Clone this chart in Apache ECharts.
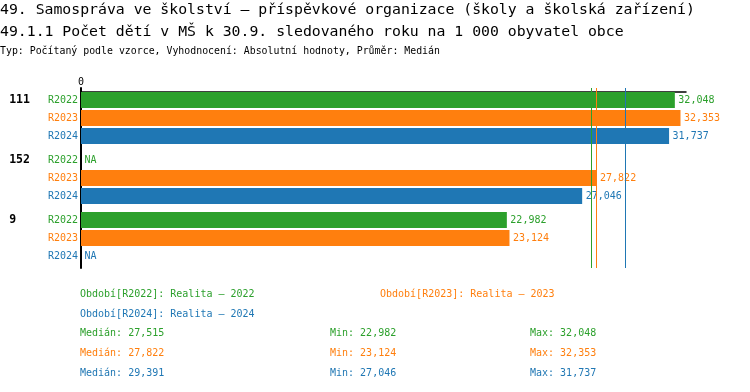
<!DOCTYPE html>
<html><head><meta charset="utf-8">
<script src="https://cdn.jsdelivr.net/npm/echarts@6/dist/echarts.min.js"></script>
<style>html,body{margin:0;padding:0;background:#fff}#c{width:750px;height:392px}</style>
</head><body><div id="c"></div>
<script>
const titleLine1 = '49. Samospráva ve školství – příspěvkové organizace (školy a školská zařízení)';
const titleLine2 = '49.1.1 Počet dětí v MŠ k 30.9. sledovaného roku na 1 000 obyvatel obce';
const subtitleText = 'Typ: Počítaný podle vzorce, Vyhodnocení: Absolutní hodnoty, Průměr: Medián';

const categories = ['111', '152', '9'];
const seriesNames = ['R2022', 'R2023', 'R2024'];
const r2022 = [32.048, null, 22.982];
const r2023 = [32.353, 27.822, 23.124];
const r2024 = [31.737, 27.046, null];
const medians = [27.515, 27.822, 29.391];
const mins = [22.982, 23.124, 27.046];
const maxs = [32.048, 32.353, 31.737];
const periodLabels = ['Období[R2022]: Realita – 2022', 'Období[R2023]: Realita – 2023', 'Období[R2024]: Realita – 2024'];
const colors = ['#2ca02c', '#ff7f0e', '#1f77b4'];

const FONT = '"DejaVu Sans Mono", "Liberation Mono", monospace';
const fmt = v => v.toFixed(3).replace('.', ',');
const seriesData = [r2022, r2023, r2024];

const titles = [
  {text: titleLine1, left: 0, top: 2, padding: 0, textStyle: {fontFamily: FONT, fontSize: 14.8, fontWeight: 'normal', color: '#000', lineHeight: 16}},
  {text: titleLine2, left: 0, top: 24, padding: 0, textStyle: {fontFamily: FONT, fontSize: 14.8, fontWeight: 'normal', color: '#000', lineHeight: 16}},
  {text: subtitleText, left: 0, top: 45, padding: 0, textStyle: {fontFamily: FONT, fontSize: 9.9, fontWeight: 'normal', color: '#000', lineHeight: 12}}
];
const periodPos = [[80, 294], [380, 294], [80, 314]];
periodLabels.forEach((t, i) => {
  titles.push({text: t, left: periodPos[i][0], top: periodPos[i][1] - 6, padding: 0,
    textStyle: {fontFamily: FONT, fontSize: 10, fontWeight: 'normal', color: colors[i], lineHeight: 12}});
});
const statRows = [333, 353, 373];
seriesNames.forEach((n, i) => {
  const y = statRows[i] - 6;
  const st = {fontFamily: FONT, fontSize: 10, fontWeight: 'normal', color: colors[i], lineHeight: 12};
  titles.push({text: 'Medián: ' + fmt(medians[i]), left: 80, top: y, padding: 0, textStyle: st});
  titles.push({text: 'Min: ' + fmt(mins[i]), left: 330, top: y, padding: 0, textStyle: st});
  titles.push({text: 'Max: ' + fmt(maxs[i]), left: 530, top: y, padding: 0, textStyle: st});
});

const rich = {
  n: {fontFamily: FONT, fontSize: 11.5, fontWeight: 'bold', color: '#000', width: 38.7, align: 'left', lineHeight: 18}
};
seriesNames.forEach((n, i) => {
  rich['s' + i] = {fontFamily: FONT, fontSize: 10, color: colors[i], align: 'right', lineHeight: 18};
});

const series = seriesNames.map((name, i) => ({
  name: name,
  type: 'bar',
  barWidth: 16,
  barGap: '12.5%',
  itemStyle: {color: colors[i]},
  data: seriesData[i].map(v => v === null ? {value: 0, na: true} : v),
  label: {
    show: true, position: 'right', distance: 3.5,
    fontFamily: FONT, fontSize: 10, color: colors[i],
    formatter: p => (p.data && p.data.na) ? 'NA' : fmt(p.value)
  },
  markLine: {
    silent: true, symbol: ['none', 'none'], animation: false,
    label: {show: false},
    lineStyle: {color: colors[i], width: 1, type: 'solid'},
    emphasis: {disabled: true},
    data: [{xAxis: medians[i]}]
  }
}));

const chart = echarts.init(document.getElementById('c'), null, {renderer: 'canvas'});
chart.setOption({
  animation: false,
  backgroundColor: '#fff',
  title: titles,
  grid: {left: 81, top: 88, width: 605, height: 180, containLabel: false},
  xAxis: {
    type: 'value', position: 'top', min: 0, max: 32.65, offset: -4,
    axisLine: {show: true, lineStyle: {color: '#000', width: 1.5}},
    axisTick: {show: false}, splitLine: {show: false},
    axisLabel: {show: true, margin: 5, showMaxLabel: false, fontFamily: FONT, fontSize: 10, color: '#000',
      formatter: v => v === 0 ? '0' : ''}
  },
  yAxis: {
    type: 'category', data: categories, inverse: true,
    axisLine: {show: true, lineStyle: {color: '#000', width: 2}},
    axisTick: {show: false}, splitLine: {show: false},
    axisLabel: {
      interval: 0, margin: 3,
      formatter: v => `{n|${v}}{s0|${seriesNames[0]}}\n{s1|${seriesNames[1]}}\n{s2|${seriesNames[2]}}`,
      rich: rich
    }
  },
  series: series
});
</script>
</body></html>
